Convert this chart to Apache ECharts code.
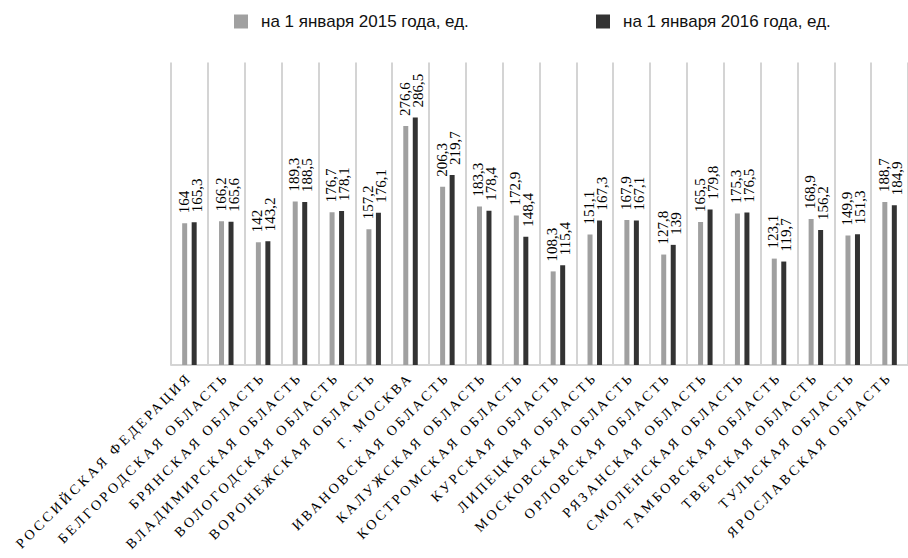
<!DOCTYPE html>
<html>
<head>
<meta charset="utf-8">
<script src="https://cdn.jsdelivr.net/npm/echarts@6/dist/echarts.min.js"></script>
<style>html,body{margin:0;padding:0;background:#fff;}#c{width:908px;height:558px;}</style>
</head>
<body>
<div id="c"></div>
<script>
const categories = [
  'РОССИЙСКАЯ ФЕДЕРАЦИЯ','БЕЛГОРОДСКАЯ ОБЛАСТЬ','БРЯНСКАЯ ОБЛАСТЬ','ВЛАДИМИРСКАЯ ОБЛАСТЬ',
  'ВОЛОГОДСКАЯ ОБЛАСТЬ','ВОРОНЕЖСКАЯ ОБЛАСТЬ','Г. МОСКВА','ИВАНОВСКАЯ ОБЛАСТЬ',
  'КАЛУЖСКАЯ ОБЛАСТЬ','КОСТРОМСКАЯ ОБЛАСТЬ','КУРСКАЯ ОБЛАСТЬ','ЛИПЕЦКАЯ ОБЛАСТЬ',
  'МОСКОВСКАЯ ОБЛАСТЬ','ОРЛОВСКАЯ ОБЛАСТЬ','РЯЗАНСКАЯ ОБЛАСТЬ','СМОЛЕНСКАЯ ОБЛАСТЬ',
  'ТАМБОВСКАЯ ОБЛАСТЬ','ТВЕРСКАЯ ОБЛАСТЬ','ТУЛЬСКАЯ ОБЛАСТЬ','ЯРОСЛАВСКАЯ ОБЛАСТЬ'
];
const seriesNames = ['на 1 января 2015 года, ед.', 'на 1 января 2016 года, ед.'];
const values2015 = [164,166.2,142,189.3,176.7,157.2,276.6,206.3,183.3,172.9,108.3,151.1,167.9,127.8,165.5,175.3,123.1,168.9,149.9,188.7];
const values2016 = [165.3,165.6,143.2,188.5,178.1,176.1,286.5,219.7,178.4,148.4,115.4,167.3,167.1,139,179.8,176.5,119.7,156.2,151.3,184.9];

const fmt = p => String(p.value).replace('.', ',');
// offset is applied in the rotated label frame: [along text, across text]
function labelCfg(across) {
  return {
    show: true, position: 'top', rotate: 90, align: 'left', verticalAlign: 'middle',
    distance: 10, offset: [0, across], formatter: fmt,
    fontFamily: 'Liberation Serif', fontSize: 15, color: '#000'
  };
}

const chart = echarts.init(document.getElementById('c'), null, {renderer: 'svg'});
const legendText = {fontFamily: 'Liberation Sans', fontSize: 17, color: '#111', padding: [0, 0, 0, 8]};
chart.setOption({
  animation: false,
  backgroundColor: '#fff',
  legend: [
    {data: [seriesNames[0]], left: 229, top: 8, icon: 'rect', itemWidth: 14, itemHeight: 14, textStyle: legendText},
    {data: [seriesNames[1]], left: 591, top: 8, icon: 'rect', itemWidth: 14, itemHeight: 14, textStyle: legendText}
  ],
  grid: {left: 171, right: -6, top: 62.5, bottom: 193, containLabel: false},
  xAxis: {
    type: 'category', data: categories, boundaryGap: true,
    axisLine: {show: true, lineStyle: {color: '#d4d4d4', width: 2}},
    axisTick: {show: false},
    splitLine: {show: true, lineStyle: {color: '#d4d4d4', width: 2}},
    axisLabel: {interval: 0, rotate: 45, margin: 10, fontFamily: 'Liberation Serif', fontSize: 14, color: '#000'}
  },
  yAxis: {
    type: 'value', min: 0, max: 350, show: false,
    splitLine: {show: false}
  },
  series: [
    {name: seriesNames[0], type: 'bar', data: values2015, barWidth: 5, barGap: '90%',
     itemStyle: {color: '#a0a0a0'}, label: labelCfg(-1)},
    {name: seriesNames[1], type: 'bar', data: values2016, barWidth: 5, barGap: '90%',
     itemStyle: {color: '#333333'}, label: labelCfg(2.5)}
  ]
});

// tracked serif caps on the category labels
const catSet = new Set(categories);
function track() {
  document.querySelectorAll('#c svg text').forEach(t => {
    if (catSet.has(t.textContent)) t.style.letterSpacing = '3px';
  });
}
track();
chart.on('finished', track);
</script>
</body>
</html>
